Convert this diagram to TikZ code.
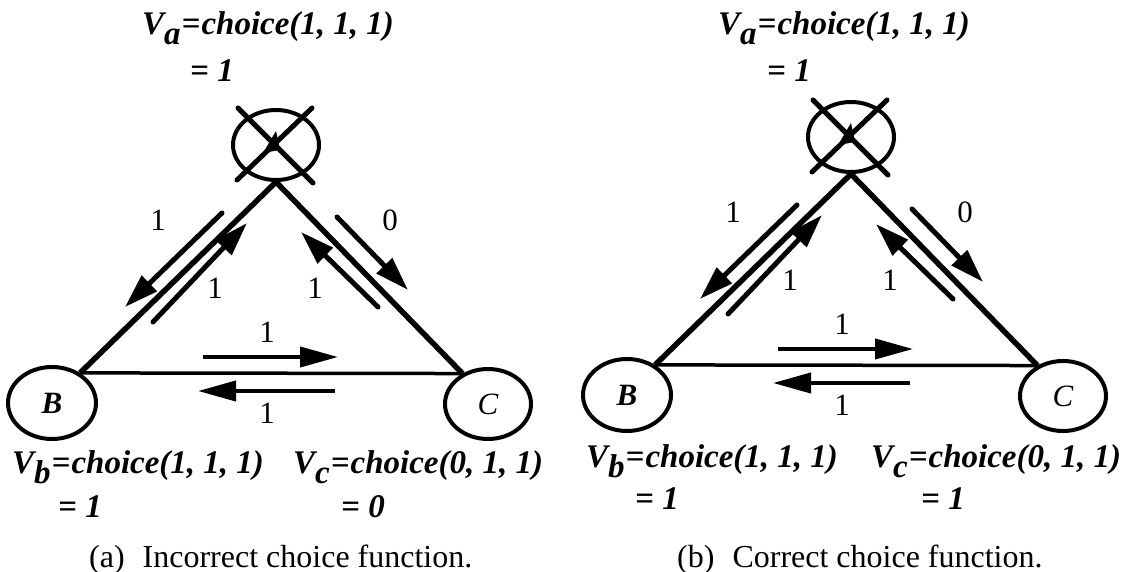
\documentclass[tikz,border=0pt]{standalone}
\usepackage{fontspec}
\setmainfont{Liberation Serif}
\usetikzlibrary{arrows.meta,shapes.geometric}
\tikzset{
  edgeline/.style={line width=5.5pt, line join=miter},
  hline/.style={line width=3.5pt},
  vertex/.style={ellipse, draw, line width=4pt, minimum width=88pt, minimum height=72pt, inner sep=0pt,
    font=\fontsize{31}{36}\selectfont\itshape},
  crossline/.style={line width=5pt, line cap=round},
  flow/.style={line width=5pt, line cap=round, -{Triangle[length=34pt,width=21pt]}},
  hflow/.style={line width=4pt, -{Triangle[length=38pt,width=20pt]}},
  elabel/.style={font=\fontsize{31}{36}\selectfont, inner sep=0pt},
  formula/.style={font=\fontsize{33}{40}\selectfont\bfseries\itshape, inner sep=0pt, anchor=base west},
  capt/.style={font=\fontsize{32}{38}\selectfont, inner sep=0pt, anchor=base west},
}
\newcommand\graphpanel[1]{%
  \node[vertex, minimum width=86pt, minimum height=70pt] (A#1) at (276,145) {};
  \node[vertex] (B#1) at (52,403) {\bfseries B};
  \node[vertex, minimum width=86pt, minimum height=70pt] (C#1) at (488,404) {C};
  \draw[crossline] ([shift={(-38,-37)}]A#1.center) -- ([shift={(37,38)}]A#1.center);
  \draw[crossline] ([shift={(36,-37)}]A#1.center) -- ([shift={(-39,35)}]A#1.center);
  \fill ([shift={(0,-14)}]A#1.center) -- ([shift={(-13,8)}]A#1.center) -- ([shift={(4,5)}]A#1.center) -- cycle;
  \draw[edgeline] (B#1.47) -- (A#1.south) -- (C#1.130);
  \draw[hline] (B#1.47) -- (C#1.130);
  \coordinate (ols#1) at (222,213); \coordinate (ole#1) at (125,307);
  \coordinate (ils#1) at (153,322); \coordinate (ile#1) at (247,223);
  \coordinate (irs#1) at (378,307); \coordinate (ire#1) at (301,232);
  \coordinate (ors#1) at (337,217); \coordinate (ore#1) at (408,290);
  \coordinate (hts#1) at (203,357); \coordinate (hte#1) at (338,357);
  \coordinate (hbs#1) at (335,391); \coordinate (hbe#1) at (198,391);
  \draw[flow] (ols#1) -- (ole#1);
  \draw[flow] (ils#1) -- (ile#1);
  \draw[flow] (irs#1) -- (ire#1);
  \draw[flow] (ors#1) -- (ore#1);
  \draw[hflow] (hts#1) -- (hte#1);
  \draw[hflow] (hbs#1) -- (hbe#1);
  \node[elabel] (lol#1) at (158,220) {1};
  \node[elabel] (lil#1) at (215,288) {1};
  \node[elabel] (lir#1) at (315,288) {1};
  \node[elabel] (lor#1) at (390,220) {0};
  \node[elabel] (lht#1) at (267,332) {1};
  \node[elabel] (lhb#1) at (267,413) {1};
}
\begin{document}
\begin{tikzpicture}[x=1pt,y=-1pt]
\useasboundingbox (0,0) rectangle (1136,572);
\graphpanel{1}
\begin{scope}[shift={(575,-8)}]
\graphpanel{2}
\end{scope}
% panel (a) texts
\node[formula] (va1) at (142,35) {V\raisebox{-10pt}{a}\kern1pt=\kern1pt choice(1, 1, 1)};
\node[formula] (va1v) at (190,82) {= 1};
\node[formula] (vb1) at (12,473) {V\raisebox{-10pt}{b}\kern1pt=\kern1pt choice(1, 1, 1)};
\node[formula] (vb1v) at (58,517) {= 1};
\node[formula] (vc1) at (293,473) {V\raisebox{-10pt}{c}\kern1pt=\kern1pt choice(0, 1, 1)};
\node[formula] (vc1v) at (341,517) {= 0};
\node[capt] (cap1) at (89,567) {(a)\hspace{18pt}Incorrect choice function.};
% panel (b) texts
\node[formula] (va2) at (718,35) {V\raisebox{-10pt}{a}\kern1pt=\kern1pt choice(1, 1, 1)};
\node[formula] (va2v) at (767,82) {= 1};
\node[formula] (vb2) at (586,467) {V\raisebox{-10pt}{b}\kern1pt=\kern1pt choice(1, 1, 1)};
\node[formula] (vb2v) at (635,509) {= 1};
\node[formula] (vc2) at (871,467) {V\raisebox{-10pt}{c}\kern1pt=\kern1pt choice(0, 1, 1)};
\node[formula] (vc2v) at (921,509) {= 1};
\node[capt] (cap2) at (677,567) {(b)\hspace{18pt}Correct choice function.};
\end{tikzpicture}
\end{document}
